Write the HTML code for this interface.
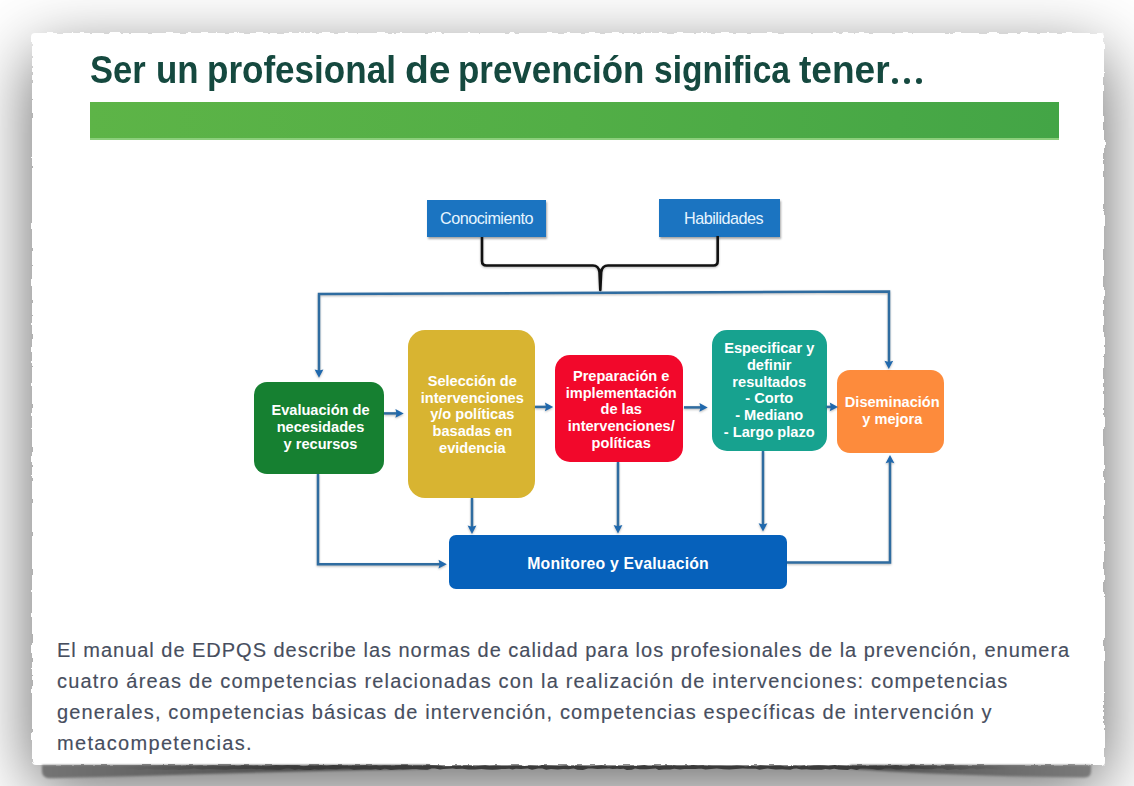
<!DOCTYPE html>
<html><head><meta charset="utf-8">
<style>
html,body{margin:0;padding:0;}
body{width:1134px;height:786px;overflow:hidden;background:#fff;position:relative;font-family:"Liberation Sans",sans-serif;}
.paper{position:absolute;left:32px;top:33px;width:1072px;height:732px;background:#fff;border-radius:4px;filter:url(#torn);}
.card{position:absolute;left:33px;top:34px;width:1070px;height:730px;background:#fff;border-radius:4px;box-shadow:0 21px 69px rgba(0,0,0,0.62);}
.abs{position:absolute;}
.dot{position:absolute;top:77.5px;width:6px;height:6px;border-radius:50%;background:#15493f;}
.title{position:absolute;top:47.5px;font-weight:bold;font-size:38.3px;color:#15493f;white-space:nowrap;line-height:44px;transform-origin:0 0;}
.bar{position:absolute;left:90px;top:101.5px;width:969px;height:36px;background:linear-gradient(90deg,#5db447,#52ae46 50%,#43a546);}
.barl{position:absolute;left:90px;top:137.5px;width:969px;height:2px;background:#8ccf7c;}
.box{position:absolute;color:#fff;font-weight:bold;text-align:center;font-size:14.6px;line-height:16.8px;white-space:nowrap;}
.tb{position:absolute;background:#1b74c1;box-shadow:0.5px 2px 2px rgba(0,0,0,0.35);color:#e6f4ff;font-size:16.2px;letter-spacing:-0.5px;white-space:nowrap;}
.cap{position:absolute;left:57px;font-size:20px;letter-spacing:0.95px;color:#474e5e;-webkit-text-stroke:0.15px #474e5e;white-space:nowrap;line-height:30.5px;}
</style></head><body>

<div class="card"></div>
<svg width="0" height="0" style="position:absolute"><filter id="torn" x="-2%" y="-2%" width="104%" height="104%"><feTurbulence type="fractalNoise" baseFrequency="0.09" numOctaves="3" seed="4" result="n"/><feDisplacementMap in="SourceGraphic" in2="n" scale="5" xChannelSelector="R" yChannelSelector="G"/></filter></svg>
<div class="paper"></div>
<svg class="abs" style="left:0;top:740px;filter:blur(0.7px)" width="1134" height="46" viewBox="0 740 1134 46">
<defs><linearGradient id="gl" gradientUnits="userSpaceOnUse" x1="42" x2="430" y1="0" y2="0"><stop offset="0" stop-color="#747474"/><stop offset="0.6" stop-color="#525252"/><stop offset="1" stop-color="#404040"/></linearGradient>
<linearGradient id="gr" gradientUnits="userSpaceOnUse" x1="850" x2="1091" y1="0" y2="0"><stop offset="0" stop-color="#4a4a4a"/><stop offset="0.4" stop-color="#626262"/><stop offset="1" stop-color="#7a7a7a"/></linearGradient>
<linearGradient id="gm" gradientUnits="userSpaceOnUse" x1="120" x2="1010" y1="0" y2="0"><stop offset="0" stop-color="#3a3a3a" stop-opacity="0"/><stop offset="0.2" stop-color="#3a3a3a" stop-opacity="1"/><stop offset="0.85" stop-color="#3a3a3a" stop-opacity="1"/><stop offset="1" stop-color="#3a3a3a" stop-opacity="0"/></linearGradient></defs>
<path style="filter:blur(0.8px)" d="M42,765 L430,765 L430,768.7 C330,770.5 230,773 130,776.3 L50,778.2 Q42,778.4 42,771 Z" fill="url(#gl)"/>
<path style="filter:blur(0.8px)" d="M850,765 L1091,765 L1091,771 Q1091,777.6 1084,777.4 L1010,776.2 C950,774.6 900,772.5 850,768.8 Z" fill="url(#gr)"/>
<path d="M120.0,765.8 L126.0,766.1 L132.7,766.0 L139.4,765.1 L144.3,766.2 L149.9,766.2 L153.3,765.7 L157.3,765.8 L162.6,765.1 L166.5,765.4 L173.2,766.0 L176.8,766.1 L180.3,765.8 L183.9,765.1 L190.3,765.4 L194.2,766.3 L200.7,765.4 L207.5,765.7 L213.2,765.3 L220.0,765.9 L226.9,766.2 L231.1,765.5 L234.7,765.3 L238.0,765.5 L243.4,765.1 L249.1,765.5 L253.4,766.1 L258.3,765.5 L263.2,765.9 L266.4,766.3 L269.5,766.0 L275.9,765.1 L282.1,765.5 L287.4,765.1 L290.6,765.3 L297.4,765.3 L303.4,766.2 L310.2,765.5 L314.6,765.7 L320.7,765.2 L326.7,766.1 L333.1,765.1 L339.9,765.2 L344.3,765.8 L350.9,765.5 L357.6,765.8 L361.9,765.5 L365.6,765.2 L369.2,765.9 L376.2,765.3 L379.4,766.3 L384.5,765.6 L388.5,765.8 L394.8,765.6 L399.5,765.2 L406.1,765.1 L411.1,766.1 L414.6,766.0 L421.4,765.9 L427.6,765.2 L432.3,765.3 L438.7,765.5 L443.5,766.3 L449.9,766.3 L454.7,765.7 L460.6,765.7 L464.8,765.6 L468.4,765.6 L475.3,766.3 L480.8,765.7 L485.2,765.2 L489.3,766.0 L495.8,765.5 L501.9,766.0 L507.7,765.9 L513.7,765.5 L519.5,765.4 L524.5,766.0 L530.2,765.5 L537.0,765.9 L542.3,765.1 L547.5,765.4 L553.2,765.7 L559.5,765.9 L565.7,765.5 L571.3,766.0 L577.6,765.5 L583.9,766.1 L589.7,766.3 L596.5,765.7 L601.6,765.3 L608.0,766.2 L612.9,765.9 L618.8,766.0 L622.5,766.0 L627.8,765.9 L632.5,765.8 L638.6,765.9 L644.4,765.1 L648.1,765.6 L653.7,765.4 L659.4,765.9 L662.6,765.7 L666.5,765.2 L670.0,765.5 L673.8,765.3 L676.9,765.7 L681.4,765.8 L686.8,765.4 L693.4,765.1 L698.0,765.4 L702.7,765.2 L709.0,765.5 L712.1,765.8 L715.5,765.8 L719.9,765.8 L726.7,766.1 L731.4,766.1 L736.9,765.5 L740.5,765.8 L745.8,766.2 L752.6,765.8 L757.0,766.2 L760.1,765.2 L765.3,765.8 L768.9,765.9 L775.4,765.6 L780.2,765.4 L784.3,766.3 L788.9,766.3 L795.5,765.8 L799.5,766.3 L804.5,765.6 L808.8,766.3 L813.8,765.4 L818.7,765.2 L824.2,765.6 L828.3,766.0 L834.7,765.1 L839.8,765.4 L846.5,766.0 L850.5,765.4 L854.1,766.3 L858.3,765.8 L863.2,765.9 L868.6,766.0 L872.1,766.0 L876.3,765.7 L880.6,765.5 L885.8,765.7 L890.2,766.0 L895.6,765.1 L899.6,765.6 L906.2,766.2 L911.4,765.1 L917.5,765.6 L922.8,765.9 L928.4,765.7 L935.0,765.6 L939.6,766.1 L943.4,765.5 L949.7,765.2 L956.0,765.9 L960.8,765.4 L966.9,766.2 L970.5,765.7 L975.6,765.7 L980.0,765.3 L985.3,766.1 L988.6,765.4 L994.9,766.1 L1000.5,765.1 L1006.4,766.3 L1010.0,765.7 L1010.0,769.5 L1006.8,769.7 L1002.9,769.4 L996.1,769.5 L992.6,768.9 L985.9,768.6 L980.5,769.1 L976.8,769.4 L973.6,768.6 L969.1,768.5 L965.9,769.3 L959.9,769.8 L956.4,769.1 L952.1,769.4 L947.2,769.9 L942.7,768.5 L936.9,768.6 L931.4,769.2 L924.7,769.3 L919.2,768.8 L914.0,768.8 L908.0,769.2 L904.5,768.8 L900.0,769.6 L896.3,769.5 L890.7,768.5 L885.0,768.5 L881.5,769.4 L877.5,769.8 L872.6,768.9 L866.4,768.4 L860.5,768.5 L856.9,769.9 L851.2,768.8 L847.7,770.0 L842.1,769.7 L838.5,769.4 L834.1,768.8 L829.8,769.4 L825.4,769.0 L821.8,769.7 L816.2,769.7 L811.5,769.8 L806.4,769.3 L801.2,769.6 L796.6,768.6 L793.4,768.7 L790.3,769.8 L785.4,769.6 L782.4,769.2 L775.8,769.4 L771.1,769.1 L767.7,768.6 L764.0,769.0 L759.5,769.8 L755.9,768.8 L751.8,768.7 L747.6,768.8 L742.7,768.5 L736.0,769.0 L729.3,769.5 L723.6,769.2 L716.8,768.6 L711.1,768.9 L705.4,769.6 L701.8,768.7 L698.7,768.8 L695.3,769.0 L688.4,769.0 L684.2,769.1 L680.1,769.6 L674.2,768.7 L670.2,769.5 L663.5,769.4 L658.7,770.0 L655.7,768.5 L649.6,769.1 L646.4,769.3 L639.5,769.2 L635.1,768.6 L631.8,769.8 L626.8,769.9 L623.6,768.8 L620.4,769.0 L617.2,768.8 L612.5,768.9 L609.3,768.5 L602.4,768.7 L597.4,769.0 L592.3,768.5 L588.0,768.6 L582.9,769.9 L577.5,769.8 L573.6,768.4 L568.4,769.2 L563.2,769.0 L557.7,769.6 L551.0,768.9 L546.2,769.7 L542.3,768.6 L538.1,768.5 L532.0,769.7 L527.7,768.6 L524.4,768.8 L521.1,769.1 L515.8,768.8 L512.5,769.5 L509.3,768.7 L505.2,769.0 L501.8,769.1 L497.5,769.6 L492.3,769.8 L486.7,769.6 L481.4,769.1 L475.1,769.4 L468.3,769.6 L462.5,768.8 L456.2,769.0 L452.7,768.5 L449.0,768.8 L443.3,768.9 L440.1,769.6 L434.9,768.4 L431.7,768.6 L427.2,769.8 L420.4,769.4 L416.5,769.1 L412.1,768.9 L409.0,769.3 L402.7,769.6 L399.3,769.2 L395.6,769.5 L390.9,769.9 L384.7,768.6 L380.4,769.9 L375.6,769.1 L370.8,769.6 L364.0,769.3 L357.2,769.4 L353.8,769.7 L349.1,768.5 L342.2,768.5 L336.9,769.2 L330.3,769.0 L326.5,768.8 L322.7,769.3 L318.2,769.6 L314.3,769.0 L310.3,770.0 L303.9,769.8 L298.4,769.0 L294.9,769.7 L289.9,768.5 L286.2,768.6 L280.4,769.8 L276.6,769.7 L272.3,769.5 L265.8,769.4 L259.6,769.0 L256.6,769.2 L251.2,768.7 L246.7,768.9 L243.6,768.9 L239.0,769.2 L233.2,769.0 L226.3,769.7 L219.6,769.5 L213.9,769.3 L207.7,769.0 L202.3,769.5 L197.3,768.9 L193.9,768.5 L189.5,769.3 L183.5,769.5 L179.3,769.9 L175.2,769.5 L171.9,769.6 L166.2,769.9 L159.6,769.5 L153.2,769.6 L147.8,768.7 L142.7,769.8 L138.8,770.0 L133.6,769.0 L130.6,769.0 L126.9,769.4 L120.3,769.9 L120.0,769.2 Z" fill="url(#gm)"/>
</svg>

<div class="title" style="left:90.0px;transform:scaleX(0.901)">Ser</div><div class="title" style="left:156.4px;transform:scaleX(0.91)">un</div><div class="title" style="left:207.0px;transform:scaleX(0.915)">profesional</div><div class="title" style="left:405.0px;transform:scaleX(1.02)">de</div><div class="title" style="left:457.5px;transform:scaleX(0.912)">prevención</div><div class="title" style="left:653.5px;transform:scaleX(0.875)">significa</div><div class="title" style="left:798.8px;transform:scaleX(0.968)">tener</div><div class="dot" style="left:892px"></div><div class="dot" style="left:904px"></div><div class="dot" style="left:916px"></div>
<div class="bar"></div><div class="barl"></div>

<div class="tb" style="left:426.5px;top:200px;width:119.5px;height:37px;"></div>
<div class="tb" style="left:659px;top:198.5px;width:121px;height:38px;"></div>
<div class="abs" style="left:440px;top:207.6px;color:#e6f4ff;font-size:16.2px;letter-spacing:-0.5px;white-space:nowrap;line-height:20px;">Conocimiento</div>
<div class="abs" style="left:684px;top:207.6px;color:#e6f4ff;font-size:16.2px;letter-spacing:-0.5px;white-space:nowrap;line-height:20px;">Habilidades</div>

<!-- colored boxes -->
<div class="abs" style="left:254px;top:382px;width:130px;height:91.5px;border-radius:13px;background:#168031;"></div>
<div class="abs" style="left:408px;top:329.7px;width:126.6px;height:168px;border-radius:17px;background:#d8b431;"></div>
<div class="abs" style="left:555px;top:355px;width:128.4px;height:107px;border-radius:15px;background:#f2082b;"></div>
<div class="abs" style="left:711.5px;top:329.5px;width:115.5px;height:121.3px;border-radius:15px;background:#17a28f;"></div>
<div class="abs" style="left:836.5px;top:369.6px;width:107.5px;height:83.4px;border-radius:13px;background:#fd8b3c;"></div>
<div class="abs" style="left:449px;top:535px;width:338px;height:54px;border-radius:7px;background:#0661bb;"></div>

<div class="box" style="left:255.5px;width:130px;top:402px;">Evaluación de<br>necesidades<br>y recursos</div>
<div class="box" style="left:409px;width:126.6px;top:372.8px;">Selección de<br>intervenciones<br>y/o políticas<br>basadas en<br>evidencia</div>
<div class="box" style="left:557px;width:128.4px;top:367.9px;">Preparación e<br>implementación<br>de las<br>intervenciones/<br>políticas</div>
<div class="box" style="left:711.5px;width:115.5px;top:340px;">Especificar y<br>definir<br>resultados<br>- Corto<br>- Mediano<br>- Largo plazo</div>
<div class="box" style="left:838.5px;width:107.5px;top:393.8px;">Diseminación<br>y mejora</div>
<div class="box" style="left:449.2px;width:337.8px;top:555.5px;font-size:15.8px;letter-spacing:0.2px;">Monitoreo y Evaluación</div>

<svg class="abs" style="left:0;top:0;filter:drop-shadow(0 1px 0.8px rgba(0,0,0,0.28))" width="1134" height="786" viewBox="0 0 1134 786">
  <g fill="none" stroke="#111" stroke-width="2.6" stroke-linejoin="round">
    <path d="M482 237 V261 Q482 265.5 486.5 265.5 H593 Q598.5 265.5 599.5 272 L600.3 290 L601.2 272 Q602.2 265.5 608 265.5 H713.5 Q717.7 265.5 717.7 261 V236"/>
  </g>
  <g fill="none" stroke="#2f6ca0" stroke-width="2.5">
    <path d="M319 371 V294 L889 291.5 V362"/>
    <path d="M384 413.4 H397"/>
    <path d="M535 406.9 H546"/>
    <path d="M684 407.4 H701"/>
    <path d="M826.5 406.9 H831"/>
    <path d="M318 474 V564.2 H440"/>
    <path d="M472 498 V527"/>
    <path d="M618 462 V527"/>
    <path d="M763 451 V525"/>
    <path d="M787 562.5 H890 V461"/>
  </g>
  <g fill="#1f68ad">
    <path d="M319.0 377.7 L314.6 369.4 L319.0 370.6 L323.4 369.4 Z"/>
    <path d="M888.8 369.0 L884.4 360.7 L888.8 361.9 L893.2 360.7 Z"/>
    <path d="M403.7 413.4 L395.4 409.0 L396.6 413.4 L395.4 417.8 Z"/>
    <path d="M553.2 406.9 L544.9 402.5 L546.1 406.9 L544.9 411.3 Z"/>
    <path d="M707.7 407.4 L699.4 403.0 L700.6 407.4 L699.4 411.8 Z"/>
    <path d="M838.0 406.9 L829.7 402.5 L830.9 406.9 L829.7 411.3 Z"/>
    <path d="M446.8 564.2 L438.5 559.8 L439.7 564.2 L438.5 568.6 Z"/>
    <path d="M472.0 533.9 L467.6 525.6 L472.0 526.8 L476.4 525.6 Z"/>
    <path d="M618.0 533.4 L613.6 525.1 L618.0 526.3 L622.4 525.1 Z"/>
    <path d="M763.0 531.6 L758.6 523.3 L763.0 524.5 L767.4 523.3 Z"/>
    <path d="M890.0 454.9 L885.6 463.2 L890.0 462.0 L894.4 463.2 Z"/>
  </g>
</svg>

<div class="cap" style="top:635px;letter-spacing:0.98px">El manual de EDPQS describe las normas de calidad para los profesionales de la prevención, enumera</div>
<div class="cap" style="top:665.5px;letter-spacing:1.17px">cuatro áreas de competencias relacionadas con la realización de intervenciones: competencias</div>
<div class="cap" style="top:696.8px;letter-spacing:1.12px">generales, competencias básicas de intervención, competencias específicas de intervención y</div>
<div class="cap" style="top:727.8px;letter-spacing:1.32px">metacompetencias.</div>
</body></html>
